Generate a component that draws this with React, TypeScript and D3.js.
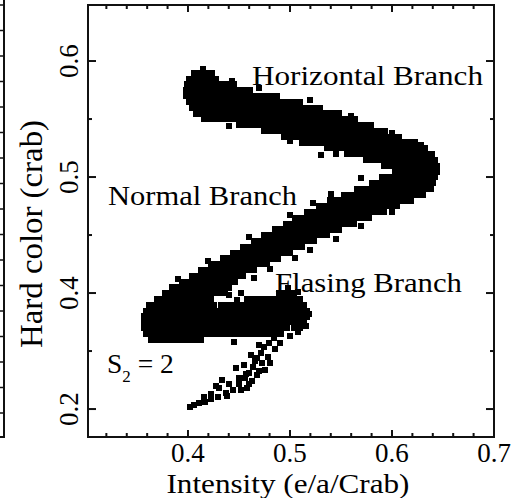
import React from "react";
import * as d3 from "d3";

const W = 515;
const H = 498;

// axes
const intensityDomain = [0.302, 0.7];
const hardDomain = [0.2759, 0.6483];
const xMajorTicks = [0.4, 0.5, 0.6, 0.7];
const xTickLabels = ["0.4", "0.5", "0.6", "0.7"];
const yMajorTicks = [0.3, 0.4, 0.5, 0.6];
const yTickLabels = ["0.2", "0.4", "0.5", "0.6"];
const yMinorTicks = [0.35, 0.45, 0.55];

// dense part of the track: per hard-colour row, the intensity range covered by points
const rowHardness = [
  0.59, 0.585, 0.58, 0.575, 0.57, 0.565, 0.56, 0.555, 0.55, 0.545, 0.54, 0.535, 0.53, 0.525, 0.52, 0.515, 0.51, 0.505,
  0.5, 0.495, 0.49, 0.485, 0.48, 0.475, 0.47, 0.465, 0.46, 0.455, 0.45, 0.445, 0.44, 0.435, 0.43, 0.425, 0.42, 0.415, 0.41, 0.405,
  0.4, 0.4, 0.395, 0.395, 0.39, 0.39, 0.385, 0.38, 0.38, 0.375, 0.375, 0.37, 0.37, 0.365, 0.36,
];
const rowIntensityFrom = [
  0.406, 0.401, 0.399, 0.398, 0.398, 0.401, 0.404, 0.408, 0.416, 0.45, 0.475, 0.494, 0.512, 0.536, 0.556, 0.575, 0.592, 0.603,
  0.59, 0.58, 0.566, 0.553, 0.539, 0.528, 0.517, 0.505, 0.496, 0.485, 0.475, 0.465, 0.454, 0.444, 0.434, 0.423, 0.413, 0.404, 0.394, 0.384,
  0.377, 0.489, 0.37, 0.458, 0.362, 0.432, 0.359, 0.357, 0.484, 0.357, 0.505, 0.357, 0.504, 0.359, 0.364,
];
const rowIntensityTo = [
  0.424, 0.427, 0.445, 0.461, 0.487, 0.51, 0.529, 0.548, 0.564, 0.579, 0.593, 0.607, 0.623, 0.632, 0.639, 0.642, 0.644, 0.644,
  0.642, 0.64, 0.638, 0.63, 0.619, 0.605, 0.592, 0.577, 0.563, 0.548, 0.536, 0.524, 0.512, 0.5, 0.488, 0.477, 0.465, 0.454, 0.446, 0.44,
  0.436, 0.504, 0.423, 0.51, 0.426, 0.514, 0.517, 0.478, 0.517, 0.5, 0.514, 0.497, 0.51, 0.491, 0.413,
];

// individual observations (edges, flaring branch, S2=2 tail)
const pointIntensity = [
  0.4436, 0.4387, 0.415, 0.47, 0.52, 0.56, 0.6, 0.628, 0.44, 0.5, 0.545, 0.53, 0.523,
  0.57, 0.54, 0.5, 0.46, 0.42, 0.39, 0.6, 0.57, 0.545, 0.52, 0.505, 0.48, 0.465,
  0.44, 0.4485, 0.452, 0.519, 0.516, 0.508, 0.5, 0.508, 0.498,
  0.4843, 0.479, 0.4745, 0.4713, 0.468, 0.4729, 0.464, 0.4599, 0.468, 0.4556, 0.4631, 0.4501, 0.4582, 0.4446, 0.4371,
  0.4296, 0.4224, 0.4166, 0.411, 0.4061, 0.4016, 0.4452,
  0.485, 0.478, 0.462, 0.476, 0.455, 0.46, 0.47, 0.45, 0.44, 0.452, 0.43, 0.423, 0.438, 0.416, 0.48, 0.49, 0.47,
  0.466, 0.457, 0.447, 0.433, 0.427,
];
const pointHardness = [
  0.5831, 0.5779, 0.593, 0.577, 0.566, 0.553, 0.538, 0.528, 0.544, 0.531, 0.52, 0.519, 0.4773,
  0.499, 0.485, 0.467, 0.448, 0.428, 0.412, 0.47, 0.458, 0.447, 0.437, 0.43, 0.421, 0.413,
  0.398, 0.394, 0.4, 0.382, 0.372, 0.366, 0.363, 0.401, 0.404,
  0.3609, 0.3566, 0.3532, 0.3486, 0.3437, 0.3394, 0.3365, 0.3314, 0.3293, 0.3265, 0.3245, 0.3216, 0.3179, 0.3164, 0.3135,
  0.3107, 0.3084, 0.3064, 0.3049, 0.3032, 0.3015, 0.3581,
  0.352, 0.345, 0.347, 0.334, 0.338, 0.322, 0.333, 0.327, 0.322, 0.316, 0.318, 0.313, 0.311, 0.31, 0.34, 0.357, 0.355,
  0.341, 0.33, 0.335, 0.325, 0.32,
];

const annotations = ["Horizontal Branch", "Normal Branch", "Flasing Branch"];

const FONT = "'Liberation Serif', 'Times New Roman', serif";
const INK = "#111";

export default function App() {
  const left = 88, right = 494, top = 5, bottom = 437;
  const x = d3.scaleLinear().domain(intensityDomain).range([left, right]);
  const y = d3.scaleLinear().domain(hardDomain).range([bottom, top]);

  const xMinor = d3.range(16, 35).filter((i) => i % 5 !== 0).map((i) => i * 0.02);
  const ghostY = d3.scaleLinear().domain([0, 16]).range([5, 413]);
  const ghostTicks = d3.range(0, 17);

  const half = 0.0025;
  const ms = 6;

  return (
    <svg width={W} height={H} style={{ position: "absolute", left: 0, top: 0, background: "#fff" }}>
      <rect x={0} y={0} width={W} height={H} fill="#fff" />
      {/* cropped neighbouring panel */}
      <line x1={4} x2={4} y1={0} y2={bottom} stroke={INK} strokeWidth={2} />
      <line x1={0} x2={5} y1={bottom} y2={bottom} stroke={INK} strokeWidth={2} />
      {ghostTicks.map((t) => (
        <line key={"g" + t} x1={0} x2={4} y1={ghostY(t)} y2={ghostY(t)} stroke={INK} strokeWidth={1.5} />
      ))}

      {/* data: dense rows */}
      <g fill="#000" shapeRendering="crispEdges">
        {rowHardness.map((h, i) => (
          <rect
            key={"r" + i}
            x={x(rowIntensityFrom[i]) - ms / 2}
            y={y(h + half)}
            width={x(rowIntensityTo[i]) - x(rowIntensityFrom[i]) + ms}
            height={y(h - half) - y(h + half) + 0.5}
          />
        ))}
        {pointIntensity.map((v, i) => (
          <rect key={"p" + i} x={x(v) - ms / 2} y={y(pointHardness[i]) - ms / 2} width={ms} height={ms} />
        ))}
      </g>

      {/* frame */}
      <rect x={left} y={top} width={right - left} height={bottom - top} fill="none" stroke={INK} strokeWidth={2} />

      {/* x ticks */}
      {xMajorTicks.map((t) => (
        <g key={"xm" + t}>
          <line x1={x(t)} x2={x(t)} y1={bottom} y2={bottom - 7} stroke={INK} strokeWidth={2} />
          <line x1={x(t)} x2={x(t)} y1={top} y2={top + 7} stroke={INK} strokeWidth={2} />
        </g>
      ))}
      {xMinor.map((t) => (
        <g key={"xn" + t}>
          <line x1={x(t)} x2={x(t)} y1={bottom} y2={bottom - 4} stroke={INK} strokeWidth={2} />
          <line x1={x(t)} x2={x(t)} y1={top} y2={top + 4} stroke={INK} strokeWidth={2} />
        </g>
      ))}
      {xMajorTicks.map((t, i) => (
        <text key={"xl" + t} x={x(t)} y={462} textAnchor="middle" fontFamily={FONT} fontSize={27} fill="#000">
          {xTickLabels[i]}
        </text>
      ))}

      {/* y ticks */}
      {yMajorTicks.map((t) => (
        <g key={"ym" + t}>
          <line x1={left} x2={left + 8} y1={y(t)} y2={y(t)} stroke={INK} strokeWidth={2} />
          <line x1={right} x2={right - 8} y1={y(t)} y2={y(t)} stroke={INK} strokeWidth={2} />
        </g>
      ))}
      {yMinorTicks.map((t) => (
        <g key={"yn" + t}>
          <line x1={left} x2={left + 4} y1={y(t)} y2={y(t)} stroke={INK} strokeWidth={2} />
          <line x1={right} x2={right - 4} y1={y(t)} y2={y(t)} stroke={INK} strokeWidth={2} />
        </g>
      ))}
      {yMajorTicks.map((t, i) => (
        <text
          key={"yl" + t}
          transform={`translate(78,${y(t)}) rotate(-90)`}
          textAnchor="middle"
          fontFamily={FONT}
          fontSize={27}
          fill="#000"
        >
          {yTickLabels[i]}
        </text>
      ))}

      {/* axis titles */}
      <text x={288} y={493} textAnchor="middle" fontFamily={FONT} fontSize={28} textLength={243} lengthAdjust="spacingAndGlyphs" fill="#000">
        Intensity (e/a/Crab)
      </text>
      <text
        transform="translate(42,234) rotate(-90)"
        textAnchor="middle"
        fontFamily={FONT}
        fontSize={31}
        textLength={228}
        lengthAdjust="spacingAndGlyphs"
        fill="#000"
      >
        Hard color (crab)
      </text>

      {/* annotations */}
      <text x={252} y={85} fontFamily={FONT} fontSize={27.5} textLength={231} lengthAdjust="spacingAndGlyphs" fill="#000">
        {annotations[0]}
      </text>
      <text x={108} y={205} fontFamily={FONT} fontSize={27.5} textLength={189} lengthAdjust="spacingAndGlyphs" fill="#000">
        {annotations[1]}
      </text>
      <text x={275} y={292} fontFamily={FONT} fontSize={27.5} textLength={187} lengthAdjust="spacingAndGlyphs" fill="#000">
        {annotations[2]}
      </text>
      <text x={107} y={373} fontFamily={FONT} fontSize={27.5} fill="#000">
        S
        <tspan fontSize={17} dy={9}>2</tspan>
        <tspan dy={-9}>{" = 2"}</tspan>
      </text>
    </svg>
  );
}
